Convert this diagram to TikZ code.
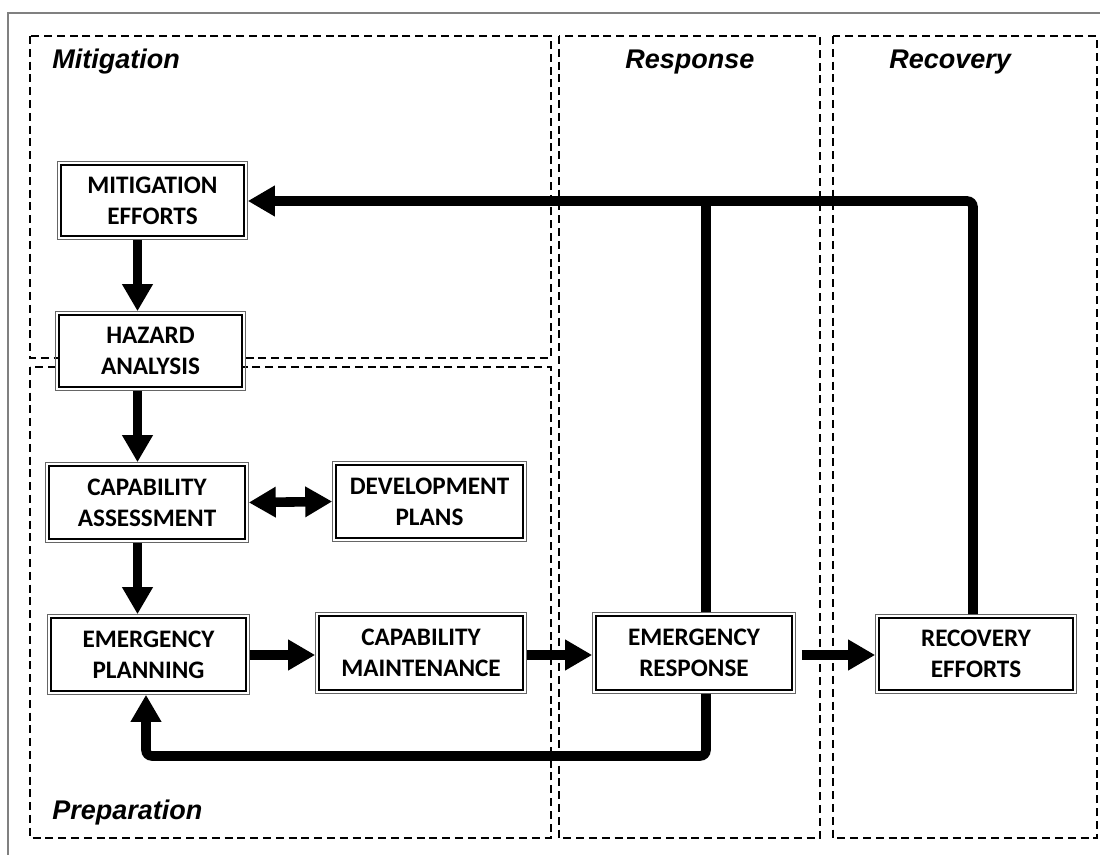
\documentclass[tikz,border=0pt]{standalone}
\usepackage{fontspec}
\setmainfont{Liberation Sans}
\newfontfamily\boxfont{Carlito}
\usetikzlibrary{arrows.meta}

\begin{document}
\begin{tikzpicture}[x=0.5pt,y=-0.5pt,
  zone/.style={draw=black,line width=0.6pt,dash pattern=on 4pt off 2.4pt},
  zonelabel/.style={anchor=base west,inner sep=0pt,font=\fontsize{13.5}{16}\selectfont\bfseries\itshape},
  stage/.style={draw=black,line width=1.2pt,fill=white,inner sep=0pt,outer sep=1.9pt,
    align=center,font=\boxfont\fontsize{12.6}{15.5}\selectfont\bfseries},
  stageedge/.style={draw=black!60,line width=0.45pt},
  flow/.style={line width=4.8pt,-{Triangle[width=14.5pt,length=13.5pt]}},
  twoway/.style={line width=4.8pt,{Triangle[width=14.5pt,length=13.5pt]}-{Triangle[width=14.5pt,length=13.5pt]}},
  link/.style={line width=4.8pt},
]
\useasboundingbox (0,0) rectangle (1100,855);

% page frame
\draw[black!50,line width=1pt] (8,855) -- (8,13) -- (1100,13);

% phase zones
\draw[zone] (30,36) rectangle (551,358);
\draw[zone] (30,367) rectangle (551,838);
\draw[zone] (559,36) rectangle (820,838);
\draw[zone] (833,36) rectangle (1097,838);

\node[zonelabel] (lmit) at (52,69) {Mitigation};
\node[zonelabel] (lres) at (625,69) {Response};
\node[zonelabel] (lrec) at (889,69) {Recovery};
\node[zonelabel] (lpre) at (52,820) {Preparation};

% stages
\node[stage,minimum width=91.5pt,minimum height=35.5pt] (me) at (152.5,200.5) {MITIGATION\\EFFORTS};
\node[stage,minimum width=91.5pt,minimum height=36pt] (ha) at (150.5,351) {HAZARD\\ANALYSIS};
\node[stage,minimum width=98pt,minimum height=36.5pt] (ca) at (147,502.5) {CAPABILITY\\ASSESSMENT};
\node[stage,minimum width=97.5pt,minimum height=36.5pt] (ep) at (148.5,654.5) {EMERGENCY\\PLANNING};
\node[stage,minimum width=93.5pt,minimum height=36.5pt] (dp) at (429.5,501.5) {DEVELOPMENT\\PLANS};
\node[stage,minimum width=102pt,minimum height=37pt] (cm) at (421,653) {CAPABILITY\\MAINTENANCE};
\node[stage,minimum width=98pt,minimum height=37pt] (er) at (694,653) {EMERGENCY\\RESPONSE};
\node[stage,minimum width=97pt,minimum height=36pt] (re) at (976,654) {RECOVERY\\EFFORTS};

\foreach \n in {me,ha,ca,ep,dp,cm,er,re}
  \draw[stageedge] (\n.north west) rectangle (\n.south east);

% routing points
\coordinate (col) at (137.5,0);
\coordinate (row) at (0,655);
\coordinate (tj) at (706,201);
\coordinate (rt) at (973,201);
\coordinate (bl) at (146,756);

% main sequence
\draw[flow] (me.south -| col) -- (ha.north -| col);
\draw[flow] (ha.south -| col) -- (ca.north -| col);
\draw[flow] (ca.south -| col) -- (ep.north -| col);
\draw[twoway] (ca.east) -- (dp.west);
\draw[flow] (ep.east |- row) -- (cm.west |- row);
\draw[flow] (cm.east |- row) -- (er.west |- row);
\draw[flow] ([xshift=3pt]er.east |- row) -- (re.west |- row);

% feedback loops
\draw[flow,rounded corners=3pt] (re.north -| rt) -- (rt) -- (me.east |- rt);
\draw[link] (er.north -| tj) -- (tj);
\draw[flow,rounded corners=3pt] (er.south -| tj) |- (bl) -- (ep.south -| bl);
\end{tikzpicture}
\end{document}
